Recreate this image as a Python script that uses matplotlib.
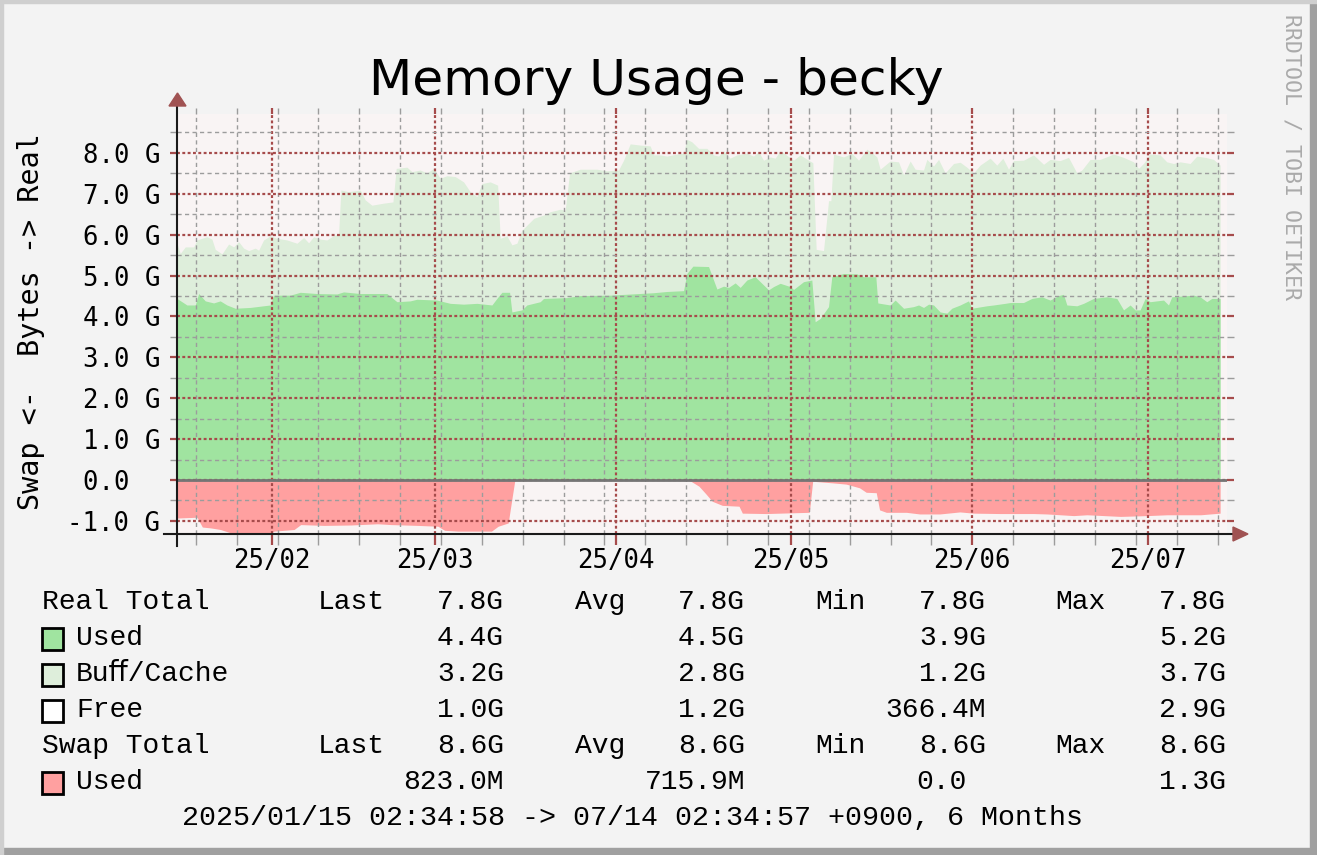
import datetime as dt
import matplotlib
matplotlib.use('Agg')
import matplotlib.pyplot as plt
import matplotlib.dates as mdates
from matplotlib.ticker import MultipleLocator, FuncFormatter
from matplotlib.patches import Rectangle, Polygon
from matplotlib.lines import Line2D

START = dt.datetime(2025, 1, 15, 2, 34, 58)

# Buff/Cache area top (= used + buff/cache), in G, days since START
cache_days = [0.67, 1.24, 2.09, 3.53, 4.09, 5.81, 6.66, 7.23, 8.38, 9.52,
              10.38, 11.23, 12.09, 12.95, 14.08, 14.66, 15.51, 16.65, 17.79, 19.5,
              21.22, 22.37, 23.22, 24.08, 25.21, 26.35, 27.21, 28.36, 28.75, 30.07,
              32.06, 32.91, 34.06, 36.06, 37.66, 38.22, 40.05, 40.91, 42.33, 43.48,
              44.63, 45.75, 46.9, 48.32, 49.76, 50.89, 52.04, 52.9, 54.32, 55.59,
              56.03, 57.18, 58.03, 58.89, 59.75, 60.6, 61.8, 63.46, 64.59, 66.3,
              67.16, 67.91, 69.73, 72.59, 74.3, 76.3, 77.16, 78.29, 80.0, 81.71,
              82.3, 83.43, 84.57, 86.29, 87.43, 88.0, 88.85, 90.0, 91.42, 92.57,
              93.43, 94.28, 95.41, 96.56, 98.27, 99.42, 100.27, 101.13, 102.26, 103.12,
              103.98, 104.83, 106.27, 107.4, 108.84, 109.57, 110.14, 111.4, 112.26, 112.66,
              113.12, 114.83, 116.25, 117.4, 118.82, 119.97, 120.53, 121.1, 122.81, 124.25,
              125.11, 126.24, 127.09, 128.53, 129.1, 130.24, 131.1, 132.23, 133.67, 134.8,
              135.94, 137.09, 138.22, 139.93, 141.08, 142.11, 143.08, 143.94, 145.65, 147.36,
              149.08, 150.21, 151.92, 153.36, 154.78, 155.64, 157.06, 158.77, 161.07, 162.78,
              164.49, 165.35, 166.2, 167.33, 169.04, 170.19, 171.34, 172.47, 174.18, 175.33,
              176.75, 178.19, 179.32]
cache_top = [5.79, 5.54, 5.70, 5.70, 5.87, 5.95, 5.89, 5.64, 5.53, 5.77,
             5.70, 5.83, 5.67, 5.61, 5.67, 5.62, 5.87, 5.97, 5.91, 5.87,
             5.79, 5.93, 5.80, 5.95, 5.89, 5.87, 5.95, 6.03, 7.09, 7.05,
             7.09, 6.85, 6.72, 6.77, 6.80, 7.62, 7.65, 7.54, 7.58, 7.51,
             7.62, 7.38, 7.44, 7.42, 7.29, 7.05, 6.93, 7.25, 7.29, 7.21,
             5.91, 5.97, 5.75, 5.79, 6.11, 6.23, 6.40, 6.48, 6.56, 6.62,
             6.60, 7.51, 7.60, 7.60, 7.56, 7.58, 7.82, 8.22, 8.19, 8.17,
             7.95, 7.95, 7.92, 7.97, 7.99, 8.33, 8.27, 8.11, 8.11, 7.95,
             7.92, 8.05, 7.87, 7.95, 7.99, 7.92, 8.03, 7.82, 7.90, 7.87,
             8.05, 7.97, 7.82, 7.95, 7.82, 7.76, 5.64, 5.61, 6.83, 6.83,
             7.97, 7.90, 7.99, 7.82, 8.09, 7.97, 7.90, 7.60, 7.80, 7.78,
             7.46, 7.80, 7.60, 7.58, 7.84, 7.68, 7.84, 7.51, 7.74, 7.77,
             7.65, 7.51, 7.70, 7.87, 7.70, 7.87, 7.60, 7.81, 7.82, 7.95,
             7.72, 7.84, 7.81, 7.89, 7.51, 7.58, 7.84, 7.84, 7.97, 7.89,
             7.78, 7.62, 7.74, 7.97, 7.95, 7.78, 7.74, 7.78, 7.74, 7.92,
             7.89, 7.84, 7.70]

# Used memory
used_days = [0.67, 2.38, 3.80, 4.39, 5.52, 6.95, 8.08, 9.23, 10.65, 13.22,
             16.65, 17.23, 20.07, 21.78, 24.64, 28.07, 29.21, 32.06, 34.92, 36.63,
             38.34, 40.62, 41.77, 45.19, 47.47, 49.76, 52.04, 54.61, 55.46, 56.32,
             57.64, 58.03, 59.75, 60.6, 62.88, 63.46, 67.45, 69.73, 74.86, 82.3,
             84.57, 87.43, 88.0, 89.03, 91.71, 93.14, 94.28, 95.14, 96.27, 97.13,
             98.27, 99.69, 101.13, 101.99, 102.84, 103.98, 105.69, 106.27, 107.98, 109.4,
             109.97, 110.82, 112.26, 112.82, 114.83, 117.11, 118.25, 120.36, 120.7, 121.1,
             122.81, 123.67, 125.11, 126.82, 127.68, 128.53, 129.39, 130.24, 131.37, 132.52,
             133.37, 134.8, 136.23, 136.8, 139.37, 140.52, 142.5, 143.36, 145.65, 147.07,
             148.78, 150.21, 151.64, 152.5, 153.07, 154.78, 155.93, 157.64, 159.92, 161.63,
             162.78, 163.91, 164.77, 165.62, 166.48, 167.33, 169.63, 170.48, 171.05, 174.76,
             175.89, 177.04, 177.89, 179.32]
used_gb = [4.44, 4.28, 4.28, 4.56, 4.38, 4.33, 4.38, 4.28, 4.20, 4.22,
           4.28, 4.52, 4.52, 4.59, 4.56, 4.55, 4.60, 4.56, 4.56, 4.56,
           4.36, 4.38, 4.42, 4.40, 4.32, 4.30, 4.32, 4.28, 4.44, 4.59,
           4.59, 4.11, 4.16, 4.28, 4.36, 4.44, 4.46, 4.51, 4.52, 4.58,
           4.61, 4.63, 5.05, 5.23, 5.22, 4.67, 4.74, 4.71, 4.82, 4.71,
           4.89, 4.97, 4.77, 4.65, 4.73, 4.81, 4.73, 4.66, 4.85, 4.89,
           3.87, 3.95, 4.24, 4.97, 5.05, 5.04, 4.97, 4.97, 4.33, 4.32,
           4.28, 4.40, 4.20, 4.24, 4.28, 4.22, 4.30, 4.28, 4.11, 4.08,
           4.20, 4.28, 4.38, 4.20, 4.26, 4.28, 4.32, 4.34, 4.34, 4.44,
           4.48, 4.40, 4.51, 4.54, 4.28, 4.26, 4.32, 4.44, 4.48, 4.44,
           4.16, 4.28, 4.16, 4.16, 4.44, 4.36, 4.40, 4.28, 4.48, 4.52,
           4.48, 4.36, 4.44, 4.44]

# Swap used (drawn below zero)
swap_days = [0.67, 4.11, 5.02, 6.40, 8.12, 9.84, 12.13, 16.71, 17.29, 19.0,
             20.73, 21.87, 25.88, 30.47, 35.05, 37.34, 41.93, 45.36, 46.51, 48.8,
             54.53, 55.68, 57.40, 57.97, 58.54, 88.34, 90.06, 91.2, 92.35, 94.07,
             96.93, 97.5, 101.52, 108.97, 109.54, 112.98, 115.27, 117.56, 118.71, 120.43,
             121.0, 122.15, 125.59, 127.88, 131.32, 134.76, 137.05, 141.63, 147.36, 149.65,
             154.24, 156.53, 162.26, 166.84, 170.28, 176.0, 179.32]
swap_gb = [0.93, 0.91, 1.15, 1.17, 1.21, 1.29, 1.31, 1.31, 1.25, 1.23,
           1.21, 1.09, 1.11, 1.10, 1.07, 1.09, 1.11, 1.13, 1.23, 1.25,
           1.25, 1.13, 1.05, 0.52, 0.0, 0.0, 0.15, 0.33, 0.52, 0.62,
           0.64, 0.81, 0.82, 0.79, 0.03, 0.07, 0.10, 0.19, 0.30, 0.31,
           0.73, 0.79, 0.79, 0.83, 0.83, 0.78, 0.81, 0.82, 0.82, 0.83,
           0.87, 0.85, 0.89, 0.87, 0.85, 0.85, 0.81]

legend_rows = [
    ('Real Total', None, 'Last', '7.8G', 'Avg', '7.8G', 'Min', '7.8G', 'Max', '7.8G'),
    ('Used', '#a0e4a0', '', '4.4G', '', '4.5G', '', '3.9G', '', '5.2G'),
    ('Bu\ufb00/Cache', '#deeedb', '', '3.2G', '', '2.8G', '', '1.2G', '', '3.7G'),
    ('Free', '#ffffff', '', '1.0G', '', '1.2G', '', '366.4M', '', '2.9G'),
    ('Swap Total', None, 'Last', '8.6G', 'Avg', '8.6G', 'Min', '8.6G', 'Max', '8.6G'),
    ('Used', '#ffa0a0', '', '823.0M', '', '715.9M', '', '0.0 ', '', '1.3G'),
]
footer = '2025/01/15 02:34:58 -> 07/14 02:34:57 +0900, 6 Months'

BG = '#f3f3f3'
CANVAS = '#f9f4f4'
RED = '#a64b4b'
GRAY = '#9c9c9c'
W, H = 1317, 855


def fx(x):
    return x / W


def fy(y):
    return 1 - y / H


def to_dates(days):
    return [START + dt.timedelta(days=d) for d in days]


fig = plt.figure(figsize=(W / 100, H / 100), dpi=100)
fig.patch.set_facecolor(BG)

ax = fig.add_axes([fx(177), fy(534), (1227 - 177) / W, (534 - 114) / H])
ax.set_facecolor(CANVAS)

ax.fill_between(to_dates(cache_days), 0, cache_top, color='#deeedb', lw=0, zorder=1)
ax.fill_between(to_dates(used_days), 0, used_gb, color='#a0e4a0', lw=0, zorder=1.1)
ax.fill_between(to_dates(swap_days), 0, [-v for v in swap_gb], color='#ffa0a0', lw=0, zorder=1.2)
ax.axhline(0, color='#757575', lw=2.0, zorder=3)

ax.set_xlim(START + dt.timedelta(days=0.68), START + dt.timedelta(days=180.5))
ax.set_ylim(-1.32, 8.95)

ax.xaxis.set_major_locator(mdates.MonthLocator())
ax.xaxis.set_minor_locator(mdates.WeekdayLocator(byweekday=mdates.SU))
ax.xaxis.set_major_formatter(mdates.DateFormatter('%y/%m'))
ax.yaxis.set_major_locator(MultipleLocator(1.0))
ax.yaxis.set_minor_locator(MultipleLocator(0.5))


def gfmt(v, pos):
    if abs(v) < 1e-9:
        return '0.0  '
    return '%.1f G' % v


ax.yaxis.set_major_formatter(FuncFormatter(gfmt))

ax.set_axisbelow(False)
ax.grid(which='major', color=RED, lw=1.6, linestyle=(0, (1.3, 1.1)))
ax.grid(which='minor', color=GRAY, lw=1.0, linestyle=(0, (3.0, 2.4)))

for s in ax.spines.values():
    s.set_visible(False)

ax.tick_params(axis='x', which='major', length=8, width=1.6, color=RED, pad=2,
               labelsize=18.5, direction='out')
ax.tick_params(axis='x', which='minor', length=8, width=1.0, color=GRAY, direction='out')
ax.tick_params(axis='y', which='major', length=5, width=1.6, color=RED, pad=7,
               labelsize=18.5, direction='out', right=True)
ax.tick_params(axis='y', which='minor', length=5, width=1.0, color=GRAY,
               direction='out', right=True)
for lab in ax.get_xticklabels() + ax.get_yticklabels():
    lab.set_family('DejaVu Sans Mono')

# ticks above the graph (grid extension)
top = ax.secondary_xaxis('top')
top.xaxis.set_major_locator(mdates.MonthLocator())
top.xaxis.set_minor_locator(mdates.WeekdayLocator(byweekday=mdates.SU))
top.tick_params(which='major', length=4.5, width=1.6, color=RED, labeltop=False)
top.tick_params(which='minor', length=4.5, width=1.0, color=GRAY, labeltop=False)
for s in top.spines.values():
    s.set_visible(False)


# axes lines with arrows
def ux(x):
    return (x - 177) / 1050


def uy(y):
    return (534 - y) / 420


ax.add_line(Line2D([0, 0], [uy(546), uy(104)], transform=ax.transAxes,
                   color='#1a1a1a', lw=1.5, clip_on=False, zorder=5))
ax.add_line(Line2D([ux(164), ux(1234)], [0, 0], transform=ax.transAxes,
                   color='#1a1a1a', lw=1.5, clip_on=False, zorder=5))
ax.add_patch(Polygon([[ux(169), uy(106)], [ux(186), uy(106)], [ux(177.5), uy(93)]],
                     closed=True, transform=ax.transAxes, color='#a05252',
                     clip_on=False, zorder=6))
ax.add_patch(Polygon([[ux(1233), uy(527)], [ux(1233), uy(541)], [ux(1248), uy(534)]],
                     closed=True, transform=ax.transAxes, color='#a05252',
                     clip_on=False, zorder=6))

# title and side texts
fig.text(fx(656.5), fy(95), 'Memory Usage - becky', ha='center', va='baseline',
         fontsize=36.2, family='DejaVu Sans', color='black')
fig.text(fx(31), fy(322), 'Swap <-  Bytes -> Real', rotation=90, ha='center',
         va='center', fontsize=20.5, family='DejaVu Sans Mono')
fig.text(fx(1292), fy(157), 'RRDTOOL / TOBI OETIKER', rotation=270, ha='center',
         va='center', fontsize=15.5, family='DejaVu Sans Mono', color='#aaaaaa')

# legend
mono = ['Liberation Mono', 'DejaVu Sans Mono', 'DejaVu Sans']
fs = 20.2
for i, row in enumerate(legend_rows):
    base = 609 + 36 * i
    name, colr = row[0], row[1]
    if colr is None:
        fig.text(fx(42), fy(base), name, ha='left', va='baseline', fontsize=fs, family=mono)
    else:
        fig.patches.append(Rectangle((fx(41.5), fy(base + 4.5)), 21.5 / W, 21.5 / H,
                                     transform=fig.transFigure, facecolor=colr,
                                     edgecolor='black', lw=2.0, figure=fig))
        fig.text(fx(76), fy(base), name, ha='left', va='baseline', fontsize=fs, family=mono)
    heads = [(318, row[2]), (575, row[4]), (815, row[6]), (1055, row[8])]
    vals = [(504, row[3]), (745, row[5]), (986, row[7]), (1226, row[9])]
    for x, t in heads:
        if t:
            fig.text(fx(x), fy(base), t, ha='left', va='baseline', fontsize=fs, family=mono)
    for x, t in vals:
        if t.endswith(' '):
            x -= 19
            t = t.strip()
        fig.text(fx(x), fy(base), t, ha='right', va='baseline', fontsize=fs, family=mono)

fig.text(fx(632.5), fy(825), footer, ha='center', va='baseline', fontsize=20.45,
         family=mono)

# frame
fig.patches.append(Rectangle((0, 0), 1, fy(848), transform=fig.transFigure,
                             color='#a0a0a0', figure=fig))
fig.patches.append(Rectangle((fx(1310), 0), 7 / W, 1, transform=fig.transFigure,
                             color='#a0a0a0', figure=fig))
fig.patches.append(Rectangle((0, 0), 3 / W, 1, transform=fig.transFigure,
                             color='#cfcfcf', figure=fig))
fig.patches.append(Rectangle((0, fy(3)), 1, 3 / H, transform=fig.transFigure,
                             color='#cfcfcf', figure=fig))

fig.savefig('out.png', dpi=100, facecolor=BG)
